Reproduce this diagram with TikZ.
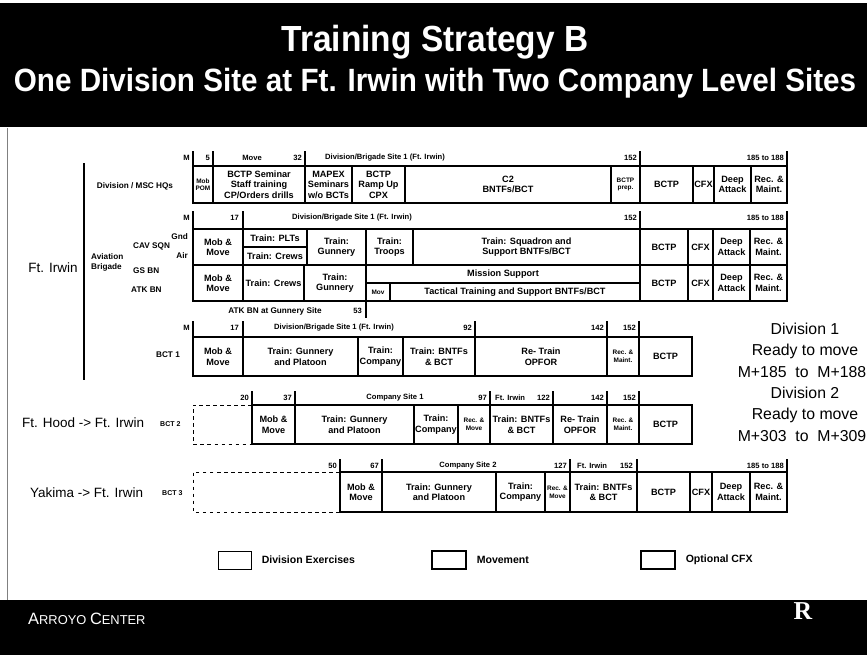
\documentclass[tikz,border=0pt]{standalone}
\usepackage{fontspec}
\setmainfont{Liberation Sans}
\newfontfamily\titlefont[FakeStretch=0.92]{Liberation Sans}
\newfontfamily\logofont{Liberation Serif}
\usetikzlibrary{positioning}

\begin{document}
\begin{tikzpicture}[x=0.03cm,y=-0.03cm]
	\tikzstyle{blk}=[draw, line width=1.1pt, anchor=north west, outer sep=0pt, inner sep=0.5pt, align=center, font=\bfseries\fontsize{7.8}{9}\selectfont]
	\tikzstyle{smalltxt}=[font=\bfseries\fontsize{5.5}{6.5}\selectfont]
	\tikzstyle{hdr}=[inner sep=0pt, font=\bfseries\fontsize{6.5}{7}\selectfont]
	\tikzstyle{lbl}=[inner sep=0pt, align=left, font=\bfseries\fontsize{7}{8.5}\selectfont]
	\tikzstyle{place}=[inner sep=0pt, font=\fontsize{11.5}{12}\selectfont]
	\tikzstyle{ready}=[inner sep=0pt, font=\fontsize{13.5}{14}\selectfont]
	\tikzstyle{legtxt}=[inner sep=0pt, font=\bfseries\fontsize{9}{10}\selectfont]
	\tikzstyle{tickline}=[line width=1pt]
	\tikzset{wd/.style={minimum width=#1*0.03cm}, ht/.style={minimum height=#1*0.03cm}}

	\useasboundingbox (0,0) rectangle (867,662);
	\fill[white] (0,0) rectangle (867,662);
	\fill (0,3) rectangle (867,127);
	\fill (0,600) rectangle (867,655);
	\draw[gray, line width=0.8pt] (7,128) -- (7,600);

	\node[text=white, font=\titlefont\bfseries\fontsize{31}{31}\selectfont] (title) at (435,42) {Training Strategy B};
	\node[text=white, font=\titlefont\bfseries\fontsize{27.5}{28}\selectfont] (subtitle) at (435,83) {One Division Site at Ft. Irwin with Two Company Level Sites};

	\node[place] (irwin) at (53,268) {Ft. Irwin};
	\draw[line width=1.3pt] (84,163) -- (84,380);
	\node[lbl] (divhq) at (135,186) {Division / MSC HQs};
	\node[lbl, anchor=west] (avbde) at (91,262) {Aviation\\Brigade};
	\node[lbl, anchor=west] (cav) at (133,246) {CAV SQN};
	\node[lbl, anchor=east] (gnd) at (188,237) {Gnd};
	\node[lbl, anchor=east] (air) at (188,256) {Air};
	\node[lbl, anchor=west] (gs) at (133,271) {GS BN};
	\node[lbl, anchor=west] (atkbn) at (131,290) {ATK BN};
	\node[lbl] (bct1) at (168,355) {BCT 1};

	\node[blk, smalltxt, wd=20, ht=37] (d1) at (193,166) {Mob\\POM};
	\node[blk, wd=92, ht=37] (d2) at (213,166) {BCTP Seminar\\Staff training\\CP/Orders drills};
	\node[blk, wd=47, ht=37] (d3) at (305,166) {MAPEX\\Seminars\\w/o BCTs};
	\node[blk, wd=53, ht=37] (d4) at (352,166) {BCTP\\Ramp Up\\CPX};
	\node[blk, wd=206, ht=37] (d5) at (405,166) {C2\\BNTFs/BCT};
	\node[blk, smalltxt, wd=29, ht=37] (d6) at (611,166) {BCTP\\prep.};
	\node[blk, wd=53, ht=37] (d7) at (640,166) {BCTP};
	\node[blk, wd=21, ht=37] (d8) at (693,166) {CFX};
	\node[blk, wd=37, ht=37] (d9) at (714,166) {Deep\\Attack};
	\node[blk, wd=36, ht=37] (d10) at (751,166) {Rec. \&\\Maint.};
	\node[hdr, anchor=east] (hD0) at (190,158) {M};
	\node[hdr, anchor=east] (hD1) at (210,158) {5};
	\node[hdr] (hD2) at (252,158) {Move};
	\node[hdr, anchor=east] (hD3) at (302,158) {32};
	\node[hdr] (hD4) at (385,158) {Division/Brigade Site 1 (Ft. Irwin)};
	\node[hdr, anchor=east] (hD5) at (637,158) {152};
	\node[hdr, anchor=east] (hD6) at (784,158) {185 to 188};
	\draw[tickline] (d1.north west) -- ++(0,-15) (d2.north west) -- ++(0,-15) (d3.north west) -- ++(0,-15)
		(d7.north west) -- ++(0,-15) (d10.north east) -- ++(0,-15);

	\node[blk, wd=50, ht=36] (c1) at (193,229) {Mob \&\\Move};
	\node[blk, wd=64, ht=18] (c2) at (243,229) {Train: PLTs};
	\node[blk, wd=64, ht=18] (c3) at (243,247) {Train: Crews};
	\node[blk, wd=59, ht=36] (c4) at (307,229) {Train:\\Gunnery};
	\node[blk, wd=47, ht=36] (c5) at (366,229) {Train:\\Troops};
	\node[blk, wd=227, ht=36] (c6) at (413,229) {Train: Squadron and\\Support BNTFs/BCT};
	\node[blk, wd=48, ht=36] (c7) at (640,229) {BCTP};
	\node[blk, wd=25, ht=36] (c8) at (688,229) {CFX};
	\node[blk, wd=37, ht=36] (c9) at (713,229) {Deep\\Attack};
	\node[blk, wd=37, ht=36] (c10) at (750,229) {Rec. \&\\Maint.};
	\node[hdr, anchor=east] (hA0) at (190,218) {M};
	\node[hdr, anchor=east] (hA1) at (239,218) {17};
	\node[hdr] (hA2) at (352,218) {Division/Brigade Site 1 (Ft. Irwin)};
	\node[hdr, anchor=east] (hA3) at (637,218) {152};
	\node[hdr, anchor=east] (hA4) at (784,218) {185 to 188};
	\draw[tickline] (c1.north west) -- ++(0,-18) (c2.north west) -- ++(0,-18) (c7.north west) -- ++(0,-18)
		(c10.north east) -- ++(0,-18);

	\node[blk, wd=50, ht=36] (g1) at (193,265) {Mob \&\\Move};
	\node[blk, wd=61, ht=36] (g2) at (243,265) {Train: Crews};
	\node[blk, wd=62, ht=36] (g3) at (304,265) {Train:\\Gunnery};
	\node[blk, wd=274, ht=18] (g4) at (366,265) {Mission Support};
	\node[blk, smalltxt, wd=24, ht=18] (g5) at (366,283) {Mov};
	\node[blk, wd=250, ht=18] (g6) at (390,283) {Tactical Training and Support BNTFs/BCT};
	\node[blk, wd=48, ht=36] (g7) at (640,265) {BCTP};
	\node[blk, wd=25, ht=36] (g8) at (688,265) {CFX};
	\node[blk, wd=37, ht=36] (g9) at (713,265) {Deep\\Attack};
	\node[blk, wd=37, ht=36] (g10) at (750,265) {Rec. \&\\Maint.};
	\node[lbl] (atk) at (275,311) {ATK BN at Gunnery Site};
	\node[hdr, anchor=east] (h53) at (362,311) {53};
	\draw[tickline] (g3.south east) -- ++(0,17);

	\node[blk, wd=50, ht=39] (b1) at (193,337) {Mob \&\\Move};
	\node[blk, wd=115, ht=39] (b2) at (243,337) {Train: Gunnery\\and Platoon};
	\node[blk, wd=45, ht=39] (b3) at (358,337) {Train:\\Company};
	\node[blk, wd=72, ht=39] (b4) at (403,337) {Train: BNTFs\\\& BCT};
	\node[blk, wd=132, ht=39] (b5) at (475,337) {Re- Train\\OPFOR};
	\node[blk, smalltxt, wd=32, ht=39] (b6) at (607,337) {Rec. \&\\Maint.};
	\node[blk, wd=53, ht=39] (b7) at (639,337) {BCTP};
	\node[hdr, anchor=east] (hB0) at (190,328) {M};
	\node[hdr, anchor=east] (hB1) at (239,328) {17};
	\node[hdr] (hB2) at (334,328) {Division/Brigade Site 1 (Ft. Irwin)};
	\node[hdr, anchor=east] (hB3) at (472,328) {92};
	\node[hdr, anchor=east] (hB4) at (604,328) {142};
	\node[hdr, anchor=east] (hB5) at (636,328) {152};
	\draw[tickline] (b1.north west) -- ++(0,-16) (b2.north west) -- ++(0,-16) (b5.north west) -- ++(0,-16)
		(b6.north west) -- ++(0,-16) (b7.north west) -- ++(0,-16);

	\node[place, anchor=west] (hood) at (22,423) {Ft. Hood -> Ft. Irwin};
	\node[lbl, font=\bfseries\fontsize{6}{7}\selectfont, anchor=west] (bct2) at (160,424) {BCT 2};
	\node[blk, wd=43, ht=39] (e1) at (252,405) {Mob \&\\Move};
	\node[blk, wd=119, ht=39] (e2) at (295,405) {Train: Gunnery\\and Platoon};
	\node[blk, wd=44, ht=39] (e3) at (414,405) {Train:\\Company};
	\node[blk, smalltxt, wd=32, ht=39] (e4) at (458,405) {Rec. \&\\Move};
	\node[blk, wd=63, ht=39] (e5) at (490,405) {Train: BNTFs\\\& BCT};
	\node[blk, wd=54, ht=39] (e6) at (553,405) {Re- Train\\OPFOR};
	\node[blk, smalltxt, wd=32, ht=39] (e7) at (607,405) {Rec. \&\\Maint.};
	\node[blk, wd=53, ht=39] (e8) at (639,405) {BCTP};
	\coordinate (e0) at (193,405);
	\draw[dashed, line width=0.7pt] (e1.north west) -- (e0) -- (e0 |- e1.south west) -- (e1.south west);
	\node[hdr, anchor=east] (hC0) at (249,398) {20};
	\node[hdr, anchor=east] (hC1) at (292,398) {37};
	\node[hdr] (hC2) at (395,398) {Company Site 1};
	\node[hdr, anchor=east] (hC3) at (487,398) {97};
	\node[hdr, anchor=west] (hC4) at (495,398) {Ft. Irwin};
	\node[hdr, anchor=east] (hC5) at (550,398) {122};
	\node[hdr, anchor=east] (hC6) at (604,398) {142};
	\node[hdr, anchor=east] (hC7) at (636,398) {152};
	\draw[tickline] (e1.north west) -- ++(0,-14) (e2.north west) -- ++(0,-14) (e5.north west) -- ++(0,-14)
		(e6.north west) -- ++(0,-14) (e7.north west) -- ++(0,-14) (e8.north west) -- ++(0,-14);

	\node[place, anchor=west] (yakima) at (30,493) {Yakima -> Ft. Irwin};
	\node[lbl, font=\bfseries\fontsize{6}{7}\selectfont, anchor=west] (bct3) at (162,493) {BCT 3};
	\node[blk, wd=42, ht=40] (f1) at (340,472) {Mob \&\\Move};
	\node[blk, wd=114, ht=40] (f2) at (382,472) {Train: Gunnery\\and Platoon};
	\node[blk, wd=49, ht=40] (f3) at (496,472) {Train:\\Company};
	\node[blk, smalltxt, wd=25, ht=40] (f4) at (545,472) {Rec. \&\\Move};
	\node[blk, wd=67, ht=40] (f5) at (570,472) {Train: BNTFs\\\& BCT};
	\node[blk, wd=53, ht=40] (f6) at (637,472) {BCTP};
	\node[blk, wd=22, ht=40] (f7) at (690,472) {CFX};
	\node[blk, wd=38, ht=40] (f8) at (712,472) {Deep\\Attack};
	\node[blk, wd=37, ht=40] (f9) at (750,472) {Rec. \&\\Maint.};
	\coordinate (f0) at (193,472);
	\draw[dashed, line width=0.7pt] (f1.north west) -- (f0) -- (f0 |- f1.south west) -- (f1.south west);
	\node[hdr, anchor=east] (hE0) at (337,466) {50};
	\node[hdr, anchor=east] (hE1) at (379,466) {67};
	\node[hdr] (hE2) at (468,466) {Company Site 2};
	\node[hdr, anchor=east] (hE3) at (567,466) {127};
	\node[hdr, anchor=west] (hE4) at (577,466) {Ft. Irwin};
	\node[hdr, anchor=east] (hE5) at (633,466) {152};
	\node[hdr, anchor=east] (hE6) at (784,466) {185 to 188};
	\draw[tickline] (f1.north west) -- ++(0,-13) (f2.north west) -- ++(0,-13) (f5.north west) -- ++(0,-13)
		(f6.north west) -- ++(0,-13) (f9.north east) -- ++(0,-13);

	\node[ready] (div1) at (805,329) {Division 1};
	\node[ready] (rdy1) at (805,351) {Ready to move};
	\node[ready] (mv1) at (802,372) {M+185\ \ to\ \ M+188};
	\node[ready] (div2) at (805,393) {Division 2};
	\node[ready] (rdy2) at (805,415) {Ready to move};
	\node[ready] (mv2) at (802,436) {M+303\ \ to\ \ M+309};

	\node[blk, wd=33, ht=18, line width=0.6pt] (legdiv) at (218,551) {};
	\node[legtxt, right=9pt of legdiv] (legdivtxt) {Division Exercises};
	\node[blk, wd=34, ht=18] (legmov) at (432,551) {};
	\node[legtxt, right=9pt of legmov] (legmovtxt) {Movement};
	\node[blk, wd=34, ht=18] (legcfx) at (641,551) {};
	\node[legtxt, right=9pt of legcfx] (legcfxtxt) {Optional CFX};

	\node[text=white, anchor=west, inner sep=0pt] (arroyo) at (28,619) {\fontsize{14}{14}\selectfont A\fontsize{11}{11}\selectfont RROYO\ \fontsize{14}{14}\selectfont C\fontsize{11}{11}\selectfont ENTER};
	\node[text=white, font=\logofont\bfseries\fontsize{22}{22}\selectfont] (logo) at (803,611) {R};
\end{tikzpicture}
\end{document}
